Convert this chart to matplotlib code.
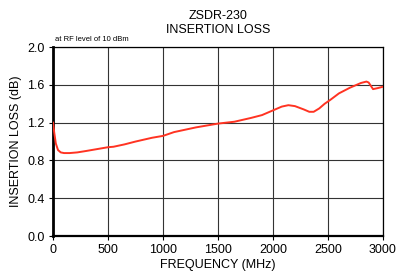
import matplotlib
matplotlib.use("Agg")
import matplotlib.pyplot as plt

plt.rcParams["font.family"] = ["Liberation Sans", "DejaVu Sans"]

# values
freq_mhz = [0, 10, 25, 45, 70, 100, 150, 220, 300, 400, 500, 550, 650, 750,
            900, 1000, 1100, 1300, 1500, 1650, 1800, 1900, 2000, 2080, 2140,
            2200, 2280, 2330, 2370, 2420, 2470, 2520, 2600, 2700, 2800, 2850,
            2870, 2890, 2910, 2950, 3000]
loss_db = [1.20, 1.10, 0.98, 0.91, 0.885, 0.878, 0.878, 0.885, 0.90, 0.92,
           0.94, 0.945, 0.97, 1.00, 1.04, 1.06, 1.10, 1.15, 1.19, 1.21, 1.25,
           1.28, 1.33, 1.37, 1.385, 1.375, 1.34, 1.315, 1.315, 1.35, 1.40,
           1.44, 1.51, 1.57, 1.62, 1.635, 1.625, 1.59, 1.555, 1.565, 1.58]

x_ticks = [0, 500, 1000, 1500, 2000, 2500, 3000]
y_ticks = [0.0, 0.4, 0.8, 1.2, 1.6, 2.0]

fig = plt.figure(figsize=(3.96, 2.77), dpi=100)
ax = fig.add_axes([0.134, 0.148, 0.833, 0.682])

ax.plot(freq_mhz, loss_db, color="#ff3322", lw=1.4, zorder=3)

ax.set_xlim(0, 3000)
ax.set_ylim(0, 2.0)
ax.set_xticks(x_ticks)
ax.set_yticks(y_ticks)
ax.set_yticklabels([f"{v:.1f}" for v in y_ticks])
ax.grid(True, color="#333333", lw=0.8)
ax.tick_params(labelsize=9, length=3, width=0.8, direction="out", pad=3)

for side in ["top", "right"]:
    ax.spines[side].set_linewidth(0.9)
ax.spines["left"].set_linewidth(2.0)
ax.spines["bottom"].set_linewidth(1.6)

ax.set_xlabel("FREQUENCY (MHz)", fontsize=9, labelpad=2)
ax.set_ylabel("INSERTION LOSS (dB)", fontsize=9, labelpad=4)
ax.set_title("ZSDR-230\nINSERTION LOSS", fontsize=9, linespacing=1.2, pad=10)
ax.text(0.005, 1.02, "at RF level of 10 dBm", transform=ax.transAxes,
        fontsize=5.5, ha="left", va="bottom")

fig.savefig("out.png", dpi=100)
